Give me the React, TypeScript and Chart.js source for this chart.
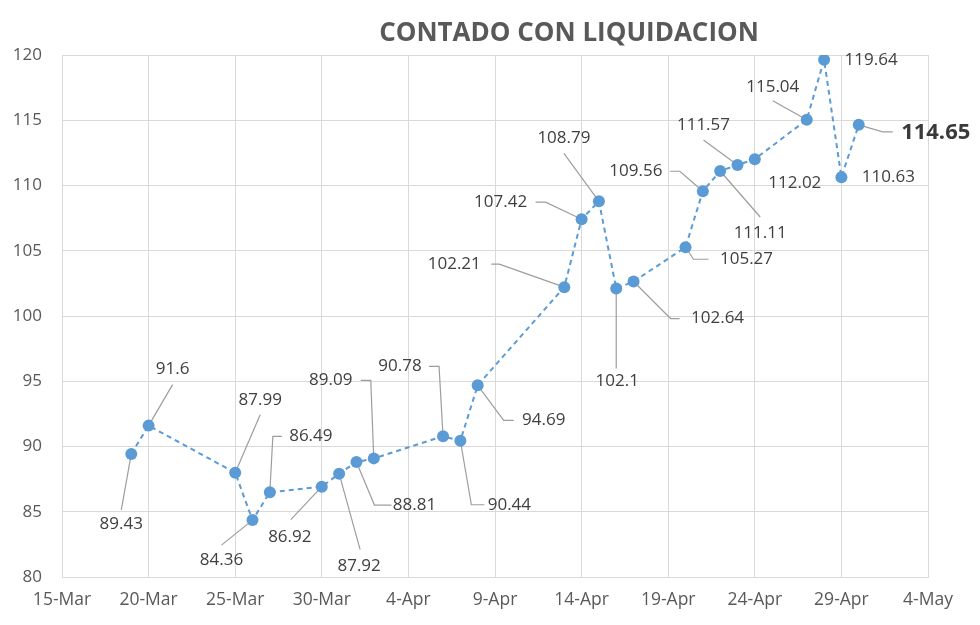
import React, { useEffect, useRef } from "react";
import { Chart, registerables } from "chart.js";

Chart.register(...registerables);

// ---- Data ----
const TITLE = "CONTADO CON LIQUIDACION";
const BASE_DATE = "2020-03-15";
const dates = [
  "2020-03-19", "2020-03-20", "2020-03-25", "2020-03-26", "2020-03-27",
  "2020-03-30", "2020-03-31", "2020-04-01", "2020-04-02", "2020-04-06",
  "2020-04-07", "2020-04-08", "2020-04-13", "2020-04-14", "2020-04-15",
  "2020-04-16", "2020-04-17", "2020-04-20", "2020-04-21", "2020-04-22",
  "2020-04-23", "2020-04-24", "2020-04-27", "2020-04-28", "2020-04-29",
  "2020-04-30",
];
const values = [
  89.43, 91.6, 87.99, 84.36, 86.49,
  86.92, 87.92, 88.81, 89.09, 90.78,
  90.44, 94.69, 102.21, 107.42, 108.79,
  102.1, 102.64, 105.27, 109.56, 111.11,
  111.57, 112.02, 115.04, 119.64, 110.63,
  114.65,
];
const X_MIN_DAY = 0; // 15-Mar
const X_MAX_DAY = 50; // 4-May
const X_STEP_DAYS = 5;
const Y_MIN = 80;
const Y_MAX = 120;
const Y_STEP = 5;
const MONTHS = ["Jan", "Feb", "Mar", "Apr", "May", "Jun", "Jul", "Aug", "Sep", "Oct", "Nov", "Dec"];
const HIGHLIGHT_INDEX = 25;

// ---- Label layout (pixel offsets from each point) ----
const labelOffsets: number[][] = [
  [-10, 70], [24, -56], [25, -73], [-31, 40], [41, -56],
  [-32, 50], [20, 93], [58, 43], [-43, -78], [-43, -70],
  [49, 64], [66, 35], [-110, -23], [-81, -17], [-35, -63],
  [1, 93], [84, 37], [61, 12], [-67, -20], [40, 62],
  [-34, -40], [40, 24], [-34, -33], [47, 0], [47, 0],
  [77, 8],
];
const leaderPaths: number[][][] = [
  [[-10, 56]], [[24, -41]], [[25, -58]], [[-31, 25]], [[12, -56], [3, -56]],
  [[-31, 33]], [[21, 76]], [[35, 43], [18, 43]], [[-13, -78], [-3, -78]], [[-14, -70], [-4, -70]],
  [[24, 64], [11, 64]], [[36, 35], [26, 35]], [[-73, -23], [-65, -23]], [[-46, -17], [-36, -17]], [[-35, -48]],
  [[0, 80]], [[46, 37], [37, 37]], [[23, 12], [8, 12]], [[-33, -20], [-23, -20]], [[40, 46]],
  [[-34, -25]], [], [[-34, -19]], [], [],
  [[34, 7], [24, 7]],
];

const FONT = "'Open Sans', 'Noto Sans', sans-serif";

const dayOffset = (d: string) =>
  Math.round((Date.parse(d + "T00:00:00Z") - Date.parse(BASE_DATE + "T00:00:00Z")) / 86400000);

const dayLabel = (v: number) => {
  const dt = new Date(Date.parse(BASE_DATE + "T00:00:00Z") + v * 86400000);
  return `${dt.getUTCDate()}-${MONTHS[dt.getUTCMonth()]}`;
};

const labelPlugin = {
  id: "pointLabelsWithLeaders",
  beforeDatasetsDraw(chart: any) {
    const ctx = chart.ctx;
    const meta = chart.getDatasetMeta(0);
    ctx.save();
    ctx.strokeStyle = "#9d9d9d";
    ctx.lineWidth = 1.2;
    meta.data.forEach((pt: any, i: number) => {
      const path = leaderPaths[i];
      if (!path || path.length === 0) return;
      ctx.beginPath();
      ctx.moveTo(pt.x + path[0][0], pt.y + path[0][1]);
      for (let k = 1; k < path.length; k++) ctx.lineTo(pt.x + path[k][0], pt.y + path[k][1]);
      ctx.lineTo(pt.x, pt.y);
      ctx.stroke();
    });
    ctx.restore();
  },
  afterDatasetsDraw(chart: any) {
    const ctx = chart.ctx;
    const meta = chart.getDatasetMeta(0);
    ctx.save();
    ctx.textAlign = "center";
    ctx.textBaseline = "middle";
    meta.data.forEach((pt: any, i: number) => {
      const off = labelOffsets[i];
      const bold = i === HIGHLIGHT_INDEX;
      ctx.font = bold ? `bold 22px ${FONT}` : `17px ${FONT}`;
      ctx.fillStyle = bold ? "#3a3a3a" : "#404040";
      ctx.fillText(String(values[i]), pt.x + off[0], pt.y + off[1]);
    });
    ctx.restore();
  },
};

const titlePlugin = {
  id: "customTitle",
  afterDraw(chart: any) {
    const ctx = chart.ctx;
    ctx.save();
    ctx.font = `bold 26px ${FONT}`;
    ctx.fillStyle = "#595959";
    ctx.textAlign = "center";
    ctx.textBaseline = "middle";
    ctx.fillText(TITLE, 569, 34);
    ctx.restore();
  },
};

export default function App() {
  const canvasRef = useRef<HTMLCanvasElement | null>(null);

  useEffect(() => {
    if (!canvasRef.current) return;
    const points = dates.map((d, i) => ({ x: dayOffset(d), y: values[i] }));
    const chart = new Chart(canvasRef.current, {
      type: "line",
      data: {
        datasets: [
          {
            data: points,
            borderColor: "#5B9BD5",
            backgroundColor: "#5B9BD5",
            borderWidth: 2,
            borderDash: [5, 4],
            pointRadius: 6,
            pointBorderWidth: 0,
            pointBackgroundColor: "#5B9BD5",
            tension: 0,
          },
        ],
      },
      options: {
        responsive: false,
        animation: false,
        devicePixelRatio: 1,
        layout: { padding: { left: 0, right: 52, top: 55, bottom: 0 } },
        plugins: {
          legend: { display: false },
          title: { display: false },
          tooltip: { enabled: false },
        },
        scales: {
          x: {
            type: "linear",
            min: X_MIN_DAY,
            max: X_MAX_DAY,
            afterFit: (s: any) => { s.height = 48; },
            ticks: {
              stepSize: X_STEP_DAYS,
              autoSkip: false,
              maxRotation: 0,
              padding: 13,
              color: "#595959",
              font: { family: FONT, size: 17.5 },
              callback: (v: any) => dayLabel(Number(v)),
            },
            grid: { color: "#d9d9d9", lineWidth: 1, drawTicks: false },
            border: { color: "#d9d9d9", width: 1 },
          },
          y: {
            min: Y_MIN,
            max: Y_MAX,
            afterFit: (s: any) => { s.width = 62; },
            ticks: {
              stepSize: Y_STEP,
              padding: 20,
              color: "#595959",
              font: { family: FONT, size: 17 },
            },
            grid: { color: "#d9d9d9", lineWidth: 1, drawTicks: false },
            border: { color: "#d9d9d9", width: 1 },
          },
        },
      },
      plugins: [labelPlugin, titlePlugin],
    });
    return () => chart.destroy();
  }, []);

  return (
    <div style={{ position: "fixed", left: 0, top: 0, width: 980, height: 625, background: "#fff" }}>
      <canvas ref={canvasRef} width={980} height={625} style={{ display: "block" }} />
    </div>
  );
}
